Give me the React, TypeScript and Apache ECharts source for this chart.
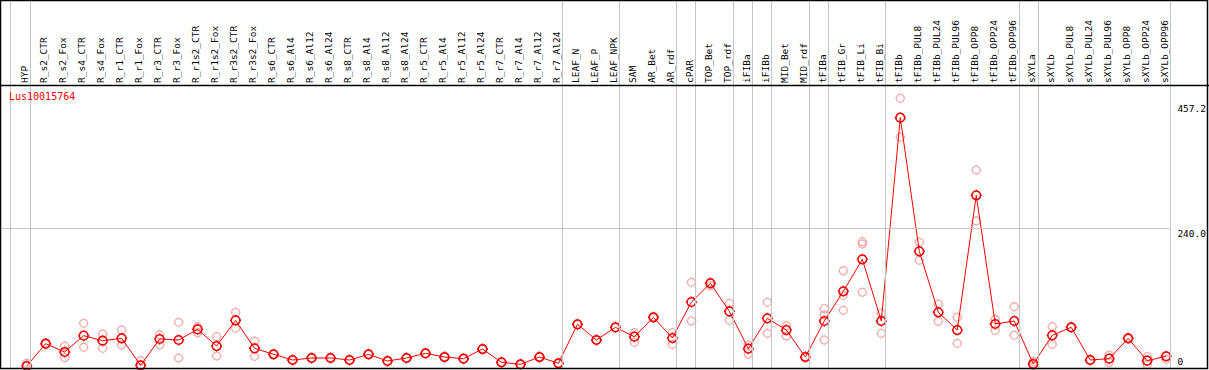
import React, { useEffect, useRef } from "react";
import * as echarts from "echarts";

const categories = [
  "HYP", "R_s2_CTR", "R_s2_Fox", "R_s4_CTR", "R_s4_Fox", "R_r1_CTR", "R_r1_Fox", "R_r3_CTR", "R_r3_Fox",
  "R_r1s2_CTR", "R_r1s2_Fox", "R_r3s2_CTR", "R_r3s2_Fox", "R_s6_CTR", "R_s6_Al4", "R_s6_Al12", "R_s6_Al24",
  "R_s8_CTR", "R_s8_Al4", "R_s8_Al12", "R_s8_Al24", "R_r5_CTR", "R_r5_Al4", "R_r5_Al12", "R_r5_Al24",
  "R_r7_CTR", "R_r7_Al4", "R_r7_Al12", "R_r7_Al24", "LEAF_N", "LEAF_P", "LEAF_NPK", "SAM", "AR_Bet", "AR_rdf",
  "cPAR", "TOP_Bet", "TOP_rdf", "iFIBa", "iFIBb", "MID_Bet", "MID_rdf", "tFIBa", "tFIB_Gr", "tFIB_Li", "tFIB_Bi",
  "tFIBb", "tFIBb_PUL8", "tFIBb_PUL24", "tFIBb_PUL96", "tFIBb_OPP8", "tFIBb_OPP24", "tFIBb_OPP96",
  "sXYLa", "sXYLb", "sXYLb_PUL8", "sXYLb_PUL24", "sXYLb_PUL96", "sXYLb_OPP8", "sXYLb_OPP24", "sXYLb_OPP96",
];

const meanValues = [
  0.7, 39.5, 25, 53.4, 44.7, 48.8, 1.9, 47.6, 45.9, 64.4, 35.4, 80.1, 31.4, 21, 11.1, 14.6, 14.6,
  11.1, 21, 9.4, 14.6, 22.7, 16.3, 13.4, 30.2, 7.1, 3.6, 16.3, 5.4, 73.1, 45.9, 67.9, 51.6, 85.3, 49.3,
  111.9, 144.4, 95.7, 30.8, 83.6, 63.2, 16.3, 78.9, 130.5, 186.1, 78.9,
  432.2, 200, 94, 63.2, 297.3, 73.7, 78.9,
  4.2, 54, 67.9, 11.1, 13.4, 48.8, 9.9, 17.5,
];

const replicateA = [
  5.4, 40.5, 35.4, 74.9, 56.3, 63.2, 9.9, 55.1, 76.6, 69, 51.6, 94, 44.1, 21.5, 11.5, 15, 15,
  11.5, 21.4, 9.8, 15, 23.1, 16.7, 13.8, 30.6, 7.5, 4, 16.7, 5.8, 73.5, 46.3, 68.3, 58.6, 86, 58.6,
  146.1, 146.1, 109.6, 37.2, 111.4, 70.7, 17, 100.3, 166.3, 216.7, 92.3,
  465.9, 215.6, 108.4, 85.3, 341.3, 81.8, 103.7,
  8.2, 69, 68.5, 11.5, 19.8, 49.5, 16.9, 18,
];

const replicateB = [
  0.5, 38.5, 15.2, 33.2, 31.4, 37.2, 1.5, 37.2, 14.6, 58.6, 18.1, 66.2, 17.5, 20.5, 10.7, 14.2, 14.2,
  10.7, 20.6, 9, 14.2, 22.3, 15.9, 13, 29.8, 6.7, 3.2, 15.9, 5, 72.7, 45.5, 67.5, 41.9, 84.6, 38.4,
  78.9, 140.2, 80.1, 21.5, 57.5, 52.8, 15.6, 45.9, 97.5, 128.8, 57.5,
  398.1, 184.4, 78.4, 40.1, 252.7, 62.7, 54,
  1, 38.4, 67.3, 10.7, 7, 48, 3, 12.3,
];

// third replicate where visible
const replicateC: (number | null)[] = categories.map(() => null);
replicateC[42] = 89.3;
replicateC[43] = 123.5;
replicateC[44] = 212.7;

// group separators: after these category indices
const separatorAfter = [-1.05, 0, 28, 31, 34, 35, 37, 38, 39, 41, 42, 45, 52, 53, 60];

const yTickValues = [0, 240, 457.2];
const geneName = "Lus10015764";

const X_MIN = -1.353;
const X_MAX = 60.17;

const markerPath =
  "path://M8.8 5C8.8 7.1 7.1 8.8 5 8.8C2.9 8.8 1.2 7.1 1.2 5C1.2 2.9 2.9 1.2 5 1.2C7.1 1.2 8.8 2.9 8.8 5Z" +
  "M5 0.2L5 1.2M5 8.8L5 9.8M0.2 5L1.2 5M8.8 5L9.8 5";

const FONT = "'DejaVu Sans Mono', 'Liberation Mono', monospace";

export default function App() {
  const ref = useRef<HTMLDivElement>(null);

  useEffect(() => {
    if (!ref.current) return;
    const chart = echarts.init(ref.current, null, { renderer: "svg" });

    const toPairs = (arr: (number | null)[]) =>
      arr.map((v, i) => (v === null ? null : [i, v])).filter((d) => d !== null);

    const option: any = {
      animation: false,
      backgroundColor: "#fff",
      grid: [
        { left: 1, right: 39, top: 85, bottom: 2, containLabel: false },
        { left: 1, right: 39, top: 0, bottom: 2, containLabel: false },
      ],
      xAxis: [
        {
          type: "value",
          gridIndex: 0,
          min: X_MIN,
          max: X_MAX,
          position: "top",
          axisLine: { show: false },
          axisTick: { show: false },
          splitLine: { show: false },
          axisLabel: {
            customValues: categories.map((_, i) => i),
            formatter: (v: number) => categories[Math.round(v)] ?? "",
            rotate: 90,
            verticalAlign: "bottom",
            lineHeight: 4,
            margin: 2,
            fontFamily: FONT,
            fontSize: 9.5,
            color: "#000",
            showMinLabel: true,
            showMaxLabel: true,
            hideOverlap: false,
          },
        },
        {
          type: "value",
          gridIndex: 1,
          min: X_MIN,
          max: X_MAX,
          show: false,
        },
      ],
      yAxis: [
        {
          type: "value",
          gridIndex: 0,
          min: -2.78,
          max: 489,
          position: "right",
          axisLine: { show: false },
          axisTick: { show: false },
          splitLine: { show: false },
          axisLabel: {
            customValues: yTickValues,
            margin: 8,
            fontFamily: FONT,
            fontSize: 9.5,
            color: "#000",
            align: "left",
            formatter: (v: number) => (v === 0 ? "{b|0}" : "{t|" + v.toFixed(1) + "}"),
            rich: {
              t: { padding: [10, 0, 0, 0], fontFamily: FONT, fontSize: 9.5 },
              b: { padding: [0, 0, 10, 0], fontFamily: FONT, fontSize: 9.5 },
            },
          },
        },
        { type: "value", gridIndex: 1, min: 0, max: 1, show: false },
      ],
      graphic: [
        {
          type: "rect",
          shape: { x: 0.5, y: 0.5, width: 1207, height: 368 },
          style: { fill: "none", stroke: "#000", lineWidth: 1.5 },
          silent: true,
          z: 100,
        },
        {
          type: "line",
          shape: { x1: 0, y1: 85.5, x2: 1209, y2: 85.5 },
          style: { stroke: "#000", lineWidth: 1.5 },
          silent: true,
          z: 100,
        },
        {
          type: "text",
          left: 9,
          top: 91,
          style: { text: geneName, fill: "#ff0000", font: `10px ${FONT}` },
          silent: true,
          z: 100,
        },
      ],
      series: [
        {
          type: "scatter",
          xAxisIndex: 1,
          yAxisIndex: 1,
          data: [[X_MIN, 0.5]],
          symbolSize: 0,
          silent: true,
          markLine: {
            silent: true,
            symbol: ["none", "none"],
            label: { show: false },
            lineStyle: { color: "#c4c4c4", width: 1, type: "solid" },
            data: separatorAfter.map((j) => ({ xAxis: j === 60 ? X_MAX : j + 0.21 })),
          },
          z: 1,
        },
        {
          type: "scatter",
          xAxisIndex: 0,
          yAxisIndex: 0,
          data: [...toPairs(replicateA), ...toPairs(replicateB), ...toPairs(replicateC)],
          symbol: markerPath,
          symbolSize: 10,
          itemStyle: { color: "transparent", borderColor: "#ef9a9a", borderWidth: 1.3 },
          markLine: {
            silent: true,
            symbol: ["none", "none"],
            label: { show: false },
            lineStyle: { color: "#c4c4c4", width: 1, type: "solid" },
            data: [{ yAxis: 240 }],
          },
          z: 2,
        },
        {
          type: "line",
          xAxisIndex: 0,
          yAxisIndex: 0,
          data: toPairs(meanValues),
          symbol: markerPath,
          symbolSize: 11,
          showSymbol: true,
          lineStyle: { color: "#ff0000", width: 1 },
          itemStyle: { color: "transparent", borderColor: "#ee0000", borderWidth: 1.5 },
          z: 3,
        },
      ],
    };

    chart.setOption(option);
    return () => chart.dispose();
  }, []);

  return (
    <div
      ref={ref}
      style={{ position: "fixed", left: 0, top: 0, width: 1209, height: 370, background: "#fff" }}
    />
  );
}
